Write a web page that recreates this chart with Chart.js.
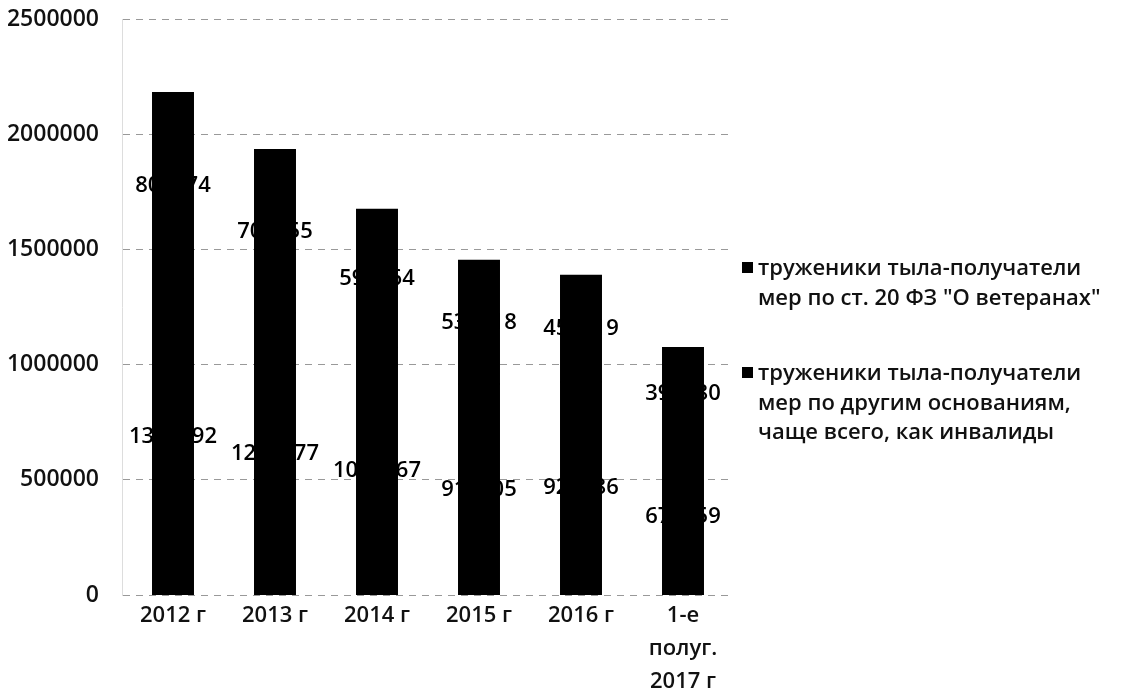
<!DOCTYPE html>
<html>
<head>
<meta charset="utf-8">
<script src="https://cdn.jsdelivr.net/npm/chart.js@4"></script>
<style>
    body { margin: 0; background: #fff; font-family: "Open Sans", sans-serif; }
    #wrap { position: relative; width: 1146px; height: 697px; }
    #legenda { position: absolute; left: 742px; top: 252px; font-size: 22px; font-weight: 600; color: #111; }
    .item { position: relative; padding-left: 16px; line-height: 29.5px; margin-bottom: 46px; }
    .item i { position: absolute; left: 0; top: 10px; width: 11px; height: 11px; background: #000; }
</style>
</head>
<body>
<div id="wrap">
    <canvas id="grafico" width="1146" height="697"></canvas>
    <div id="legenda"></div>
</div>
<script>
// --- ДАННЫЕ ---
const categorias = ["2012 г", "2013 г", "2014 г", "2015 г", "2016 г", ["1-е", "полуг.", "2017 г"]];
const ticksY = [0, 500000, 1000000, 1500000, 2000000, 2500000];
const serieSt20 = [1372292, 1225277, 1074567, 915405, 925986, 676059];
const serieOutros = [806374, 705655, 597764, 535218, 459919, 395580];
const legendas = [
    ["труженики тыла-получатели", "мер по ст. 20 ФЗ \"О ветеранах\""],
    ["труженики тыла-получатели", "мер по другим основаниям,", "чаще всего, как инвалиды"]
];

const FONTE = { family: "Open Sans", size: 22, weight: "600" };

// rótulos no centro de cada segmento (preto: some por baixo da barra)
const rotulos = {
    id: "rotulos",
    afterDatasetsDraw(chart) {
        const ctx = chart.ctx;
        ctx.save();
        ctx.font = `${FONTE.weight} ${FONTE.size}px "${FONTE.family}"`;
        ctx.fillStyle = "#000";
        ctx.textAlign = "center";
        ctx.textBaseline = "middle";
        chart.data.datasets.forEach((ds, i) => {
            chart.getDatasetMeta(i).data.forEach((bar, j) => {
                const p = bar.getProps(["x", "y", "base"], true);
                ctx.fillText(String(ds.data[j]), p.x, (p.y + p.base) / 2);
            });
        });
        ctx.restore();
    }
};

new Chart(document.getElementById("grafico"), {
    type: "bar",
    data: {
        labels: categorias,
        datasets: [
            { label: legendas[0].join(" "), data: serieSt20, backgroundColor: "#000", borderWidth: 0, inflateAmount: 1 },
            { label: legendas[1].join(" "), data: serieOutros, backgroundColor: "#000", borderWidth: 0, inflateAmount: 1 }
        ]
    },
    options: {
        responsive: false,
        animation: false,
        layout: { padding: { top: 19, right: 412, left: 0, bottom: 0 } },
        plugins: { legend: { display: false }, tooltip: { enabled: false } },
        datasets: { bar: { categoryPercentage: 1, barPercentage: 0.392 } },
        scales: {
            x: {
                stacked: true,
                grid: { display: false },
                border: { display: false },
                ticks: { color: "#111", font: { ...FONTE, lineHeight: 1.5 }, padding: -4, maxRotation: 0 },
                afterFit: s => { s.height = 102; }
            },
            y: {
                stacked: true,
                min: 0,
                max: 2500000,
                afterBuildTicks: s => { s.ticks = ticksY.map(v => ({ value: v })); },
                grid: { color: "#999", drawTicks: true, tickLength: 23, tickColor: "rgba(0,0,0,0)", lineWidth: 1 },
                border: { display: true, color: "#ddd", dash: [7, 6] },
                ticks: { color: "#111", font: { ...FONTE, size: 23 }, padding: 0, callback: v => String(v) },
                afterFit: s => { s.width = 122; }
            }
        }
    },
    plugins: [rotulos]
});

// legenda em HTML (texto em várias linhas)
document.getElementById("legenda").innerHTML = legendas.map(l =>
    `<div class="item"><i></i>${l.join("<br>")}</div>`).join("");
</script>
</body>
</html>
